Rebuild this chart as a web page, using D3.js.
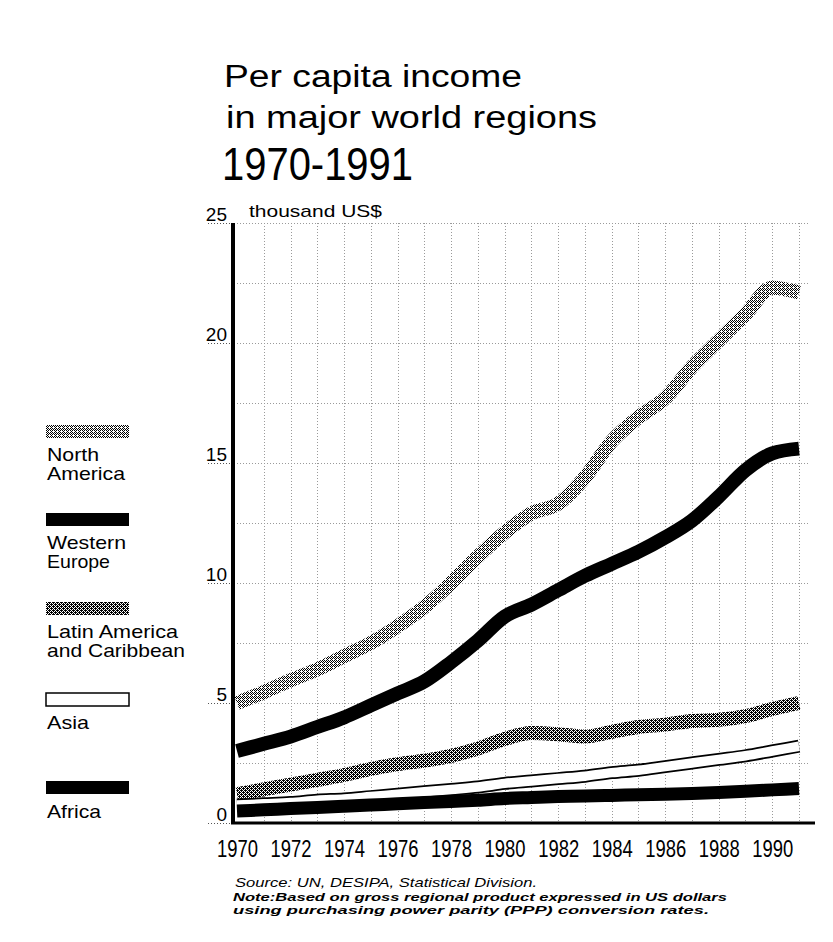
<!DOCTYPE html>
<html><head><meta charset="utf-8">
<script src="https://cdn.jsdelivr.net/npm/d3@7"></script>
<style>
html,body{margin:0;padding:0;background:#fff;}
svg text{font-family:"Liberation Sans",Arial,Helvetica,sans-serif;fill:#000;}
</style></head>
<body>
<svg id="chart" width="833" height="942"></svg>
<script>
// ---- data ----
const years = [1970,1971,1972,1973,1974,1975,1976,1977,1978,1979,1980,1981,1982,1983,1984,1985,1986,1987,1988,1989,1990,1991];
const northAmerica = [5.0,5.45,5.95,6.4,6.95,7.5,8.2,9.0,10.0,11.1,12.1,12.9,13.3,14.4,15.9,16.9,17.7,19.0,20.1,21.2,22.3,22.1];
const westernEurope = [3.0,3.3,3.6,4.0,4.4,4.9,5.4,5.9,6.7,7.6,8.6,9.1,9.7,10.3,10.8,11.3,11.9,12.6,13.6,14.7,15.4,15.6];
const latinAmerica = [1.2,1.4,1.6,1.8,2.0,2.25,2.45,2.6,2.8,3.1,3.5,3.75,3.7,3.6,3.8,4.0,4.1,4.25,4.3,4.45,4.75,5.0];
const asia = [0.75,0.8,0.85,0.95,1.0,1.1,1.2,1.3,1.4,1.5,1.65,1.75,1.85,1.95,2.1,2.2,2.35,2.5,2.65,2.8,3.0,3.2];
const africa = [0.5,0.55,0.6,0.65,0.7,0.75,0.8,0.85,0.9,0.95,1.02,1.06,1.1,1.12,1.15,1.18,1.2,1.23,1.27,1.32,1.38,1.44];
const xTickYears = [1970,1972,1974,1976,1978,1980,1982,1984,1986,1988,1990];
const yTickValues = [0,5,10,15,20,25];
const legendNames = [["North","America"],["Western","Europe"],["Latin America","and Caribbean"],["Asia"],["Africa"]];
const titleLines = ["Per capita income","in major world regions","1970-1991"];
const unitLabel = "thousand US$";
const sourceLines = ["Source: UN, DESIPA, Statistical Division.",
  "Note:Based on gross regional product expressed in US dollars",
  "using purchasing power parity (PPP) conversion rates."];

// ---- setup ----
const svg = d3.select("#chart");
const x = d3.scaleLinear().domain([1970,1991]).range([237,799]);
const y = d3.scaleLinear().domain([0,25]).range([823,223]);

// halftone patterns
const defs = svg.append("defs");
function halftone(id, rows){
  const p = defs.append("pattern").attr("id",id).attr("patternUnits","userSpaceOnUse")
    .attr("width",rows[0].length).attr("height",rows.length);
  p.append("rect").attr("width",rows[0].length).attr("height",rows.length).attr("fill","#fff");
  rows.forEach((r,j)=>r.split("").forEach((c,i)=>{ if(c==="1") p.append("rect").attr("x",i).attr("y",j).attr("width",1).attr("height",1).attr("fill","#000"); }));
}
halftone("htLight",["1010","0101","1010","0001"]);
halftone("htDark",["1011","0101","1110","0101"]);

// grid
const grid = svg.append("g").attr("stroke","#9a9a9a").attr("stroke-width",1).attr("stroke-dasharray","1,2");
grid.selectAll("line.v").data(years.slice(1)).join("line").attr("class","v")
  .attr("x1",d=>Math.round(x(d))+0.5).attr("x2",d=>Math.round(x(d))+0.5).attr("y1",y(25)).attr("y2",y(0));
grid.selectAll("line.h").data(d3.range(2.5,25.01,2.5)).join("line").attr("class","h")
  .attr("x1",x(1970)).attr("x2",x(1991)+10).attr("y1",d=>Math.round(y(d))+0.5).attr("y2",d=>Math.round(y(d))+0.5);

// y axis
const yAxis = svg.append("g").attr("transform",`translate(${x(1970)-4},0)`)
  .call(d3.axisLeft(y).tickValues(yTickValues).tickSize(26).tickPadding(0));
yAxis.select(".domain").remove();
yAxis.selectAll(".tick line").attr("stroke","#555").attr("stroke-dasharray","1,2");
yAxis.selectAll(".tick text").attr("x",-6).attr("dy",-3).attr("font-size",19)
  .style("font-family","'Liberation Sans',Arial,sans-serif");

// x axis
const xAxis = svg.append("g").attr("transform",`translate(0,${y(0)})`)
  .call(d3.axisBottom(x).tickValues(xTickYears).tickFormat(d3.format("d")).tickSize(0));
xAxis.select(".domain").remove();
xAxis.selectAll(".tick text").attr("y",34).attr("dy",0).attr("font-size",23)
  .attr("textLength",41).attr("lengthAdjust","spacingAndGlyphs")
  .style("font-family","'Liberation Sans',Arial,sans-serif");

// lines
const series = [
  {name:"North America", values:northAmerica, stroke:"url(#htLight)", w:14},
  {name:"Western Europe", values:westernEurope, stroke:"#000", w:14},
  {name:"Latin America", values:latinAmerica, stroke:"url(#htDark)", w:14},
  {name:"Asia", values:asia, stroke:"#000", w:13, inner:"#fff"},
  {name:"Africa", values:africa, stroke:"#000", w:13}
];
const line = d3.line().x((d,i)=>x(years[i])).y(d=>y(d)).curve(d3.curveMonotoneX);
const lg = svg.append("g").attr("fill","none");
series.forEach(s=>{
  lg.append("path").attr("d",line(s.values)).attr("stroke",s.stroke).attr("stroke-width",s.w).attr("stroke-linecap","butt");
  if(s.inner) lg.append("path").attr("d",line(s.values)).attr("stroke",s.inner).attr("stroke-width",s.w-3.5).attr("stroke-linecap","butt");
});

// axis lines
svg.append("line").attr("x1",x(1970)-4).attr("x2",x(1970)-4).attr("y1",y(25)).attr("y2",y(0)+1)
  .attr("stroke","#000").attr("stroke-width",4);
svg.append("line").attr("x1",x(1970)-6).attr("x2",x(1991)+16).attr("y1",y(0)).attr("y2",y(0))
  .attr("stroke","#000").attr("stroke-width",3);

// title
const tt = svg.append("g");
tt.append("text").attr("x",224).attr("y",87).attr("font-size",31).attr("textLength",298).attr("lengthAdjust","spacingAndGlyphs").text(titleLines[0]);
tt.append("text").attr("x",226).attr("y",128).attr("font-size",31).attr("textLength",371).attr("lengthAdjust","spacingAndGlyphs").text(titleLines[1]);
tt.append("text").attr("x",222).attr("y",180).attr("font-size",46).attr("textLength",191).attr("lengthAdjust","spacingAndGlyphs").text(titleLines[2]);
svg.append("text").attr("x",249).attr("y",217).attr("font-size",17).attr("textLength",133).attr("lengthAdjust","spacingAndGlyphs").text(unitLabel);

// legend
const legendTop = [425,513,602,693,781];
const legendFill = ["url(#htLight)","#000","url(#htDark)","#fff","#000"];
const legendWidths = [[52,78],[79,63],[131,138],[42],[54]];
const leg = svg.append("g");
legendNames.forEach((lines,i)=>{
  leg.append("rect").attr("x",46).attr("y",legendTop[i]).attr("width",83).attr("height",13)
    .attr("fill",legendFill[i]).attr("stroke",i===3?"#000":"none").attr("stroke-width",1.5);
  lines.forEach((t,j)=>{
    leg.append("text").attr("x",47).attr("y",legendTop[i]+(i===4?37:36)+j*19).attr("font-size",19)
      .attr("textLength",legendWidths[i][j]).attr("lengthAdjust","spacingAndGlyphs").text(t);
  });
});

// source notes
const srcY = [887,901,914];
const srcX = [235,233,233];
const srcW = [302,494,476];
const srcSize = [13.5,11.5,11.5];
sourceLines.forEach((t,i)=>{
  svg.append("text").attr("x",srcX[i]).attr("y",srcY[i]).attr("font-size",srcSize[i]).attr("font-style","italic")
    .attr("font-weight",i>0?"bold":"normal")
    .attr("textLength",srcW[i]).attr("lengthAdjust","spacingAndGlyphs").text(t);
});
</script>
</body></html>
